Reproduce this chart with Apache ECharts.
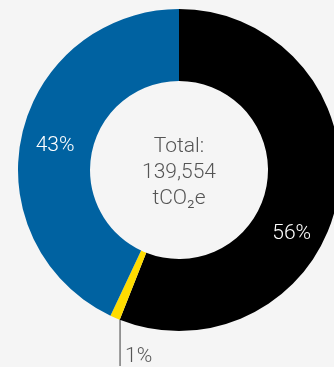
<!DOCTYPE html>
<html>
<head>
<meta charset="utf-8">
<script src="https://cdn.jsdelivr.net/npm/echarts@6/dist/echarts.min.js"></script>
<style>
  html, body { margin: 0; padding: 0; background: #f5f5f5; }
  #chart { width: 334px; height: 367px; }
</style>
</head>
<body>
<div id="chart"></div>
<script>
// Emission shares (%), clockwise from 12 o'clock
const categories = ['Black', 'Yellow', 'Blue'];
const shares = [56, 1, 43];
const colors = ['#000000', '#ffdc00', '#0062a1'];
const totalLines = ['Total:', '139,554', 'tCO₂e'];

const FONT = 'Roboto, "Liberation Sans", sans-serif';

const chart = echarts.init(document.getElementById('chart'), null, { renderer: 'canvas' });

const CX = 179, CY = 170, R_IN = 89, R_OUT = 161;

chart.setOption({
  backgroundColor: '#f5f5f5',
  animation: false,
  graphic: [{
    type: 'text',
    x: CX, y: CY + 3,
    style: {
      text: totalLines.join('\n'),
      font: '300 21px ' + FONT,
      fill: '#555555',
      align: 'center',
      verticalAlign: 'middle',
      lineHeight: 26
    }
  }],
  series: [{
    type: 'pie',
    center: [CX, CY],
    radius: [R_IN, R_OUT],
    startAngle: 90,
    clockwise: true,
    avoidLabelOverlap: false,
    silent: true,
    data: categories.map((c, i) => ({
      name: c,
      value: shares[i],
      itemStyle: { color: colors[i] },
      label: i === 1
        ? { position: 'outside', color: '#555555' }
        : { position: 'inside', color: '#ffffff' },
      labelLine: i === 1
        ? { show: true, length: 10, length2: 10, lineStyle: { color: '#7a7a7a', width: 1.5 } }
        : { show: false }
    })),
    label: {
      show: true,
      formatter: p => p.value + '%',
      fontFamily: FONT,
      fontWeight: 300,
      fontSize: 21
    },
    labelLayout: function (p) {
      if (p.dataIndex === 0) {
        return { dx: -13, dy: 40 };
      }
      if (p.dataIndex === 2) {
        return { dx: 1, dy: 4 };
      }
      if (p.dataIndex === 1) {
        // vertical leader from the slice's outer edge down to the label
        const mid = (shares[0] + shares[1] / 2) / 100 * Math.PI * 2;
        const sx = CX + Math.sin(mid) * R_OUT + 5;
        const sy = CY - Math.cos(mid) * R_OUT + 1;
        return {
          x: sx + 5, y: 357,
          align: 'left', verticalAlign: 'middle',
          labelLinePoints: [[sx, sy], [sx, 366], [sx, 366]]
        };
      }
    }
  }]
});
</script>
</body>
</html>
